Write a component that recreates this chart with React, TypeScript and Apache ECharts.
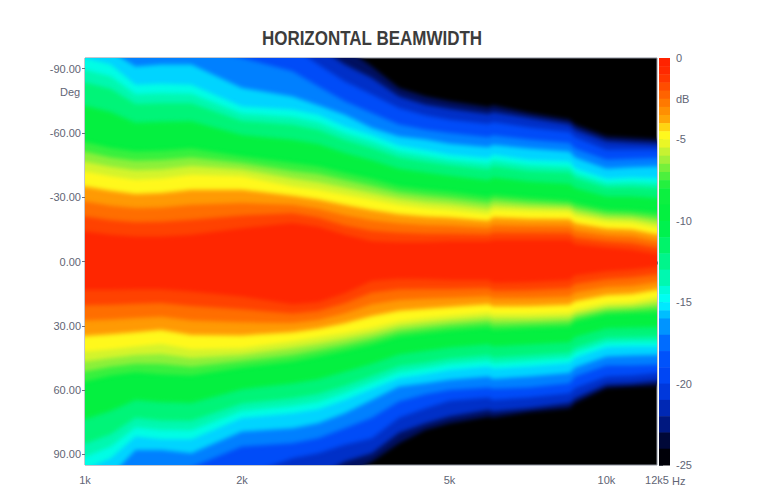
import React, { useEffect, useRef } from "react";
import * as echarts from "echarts";

const titleText = "HORIZONTAL BEAMWIDTH";
const freqs = [1000,1120,1250,1400,1600,2000,2500,2800,3150,3550,4000,4500,5000,5950,6050,7100,8500,8700,10000,11200,12500];
const xLabelValues = [1000,2000,5000,10000,12500];
const xLabelNames = ["1k","2k","5k","10k","12k5"];
const xTickValues = [1000,2000,3000,4000,5000,6000,7000,8000,9000,10000,12500];
const angleTicks = [-90,-60,-30,0,30,60,90];

// Angle (deg) at which each dB contour crosses each frequency column; +/-100 = beyond the plot.
const up1 = [-14,-12.5,-11.7,-11.7,-12.5,-15.5,-18,-16.2,-12.5,-9.5,-9,-9,-9.4,-9.4,-10,-10,-10,-8,-6.5,-5.5,-3.5];
const up2 = [-21,-19.3,-18.3,-18.5,-19.5,-21.5,-22.5,-20.5,-16.8,-14.4,-13.4,-13,-13,-12.6,-13.5,-13.4,-13.3,-11.2,-9.5,-8.6,-6.5];
const up3 = [-28,-26,-25,-25.2,-26.5,-27.3,-26.5,-24.6,-21.6,-19.2,-17.8,-17,-16.8,-15.8,-17,-16.7,-16.6,-14.5,-12.4,-11.8,-9.5];
const up4 = [-35,-33,-31.5,-32,-33.5,-33.5,-30.7,-29,-26.4,-24,-22,-21,-20.5,-19,-20.7,-20,-19.8,-17.8,-15.4,-14.9,-12.6];
const up5 = [-42,-39.8,-38.2,-38.7,-40.5,-39.8,-35,-33.5,-31.2,-29,-26.5,-25,-24.2,-22.2,-24.2,-23.4,-23.1,-21,-18.4,-18,-15.6];
const up6 = [-46.6,-44.2,-42.6,-43,-44.6,-43,-38.7,-37,-34.6,-32,-29.4,-27.8,-27,-24.8,-26.5,-25.5,-24.9,-23.1,-20.3,-19.9,-18];
const up7 = [-51.2,-48.6,-47,-47.4,-48.6,-46,-42.3,-40.8,-38,-35.3,-32.2,-30.7,-29.7,-27.4,-28.9,-27.5,-26.6,-25.2,-22.3,-21.8,-20.3];
const up8 = [-55.8,-53,-51.4,-51.7,-52.7,-49,-46,-44.4,-41.3,-38.5,-35,-33.5,-32.4,-30,-31.2,-29.6,-28.4,-27.3,-24.2,-23.7,-22.6];
const up11 = [-72.7,-69.8,-64.8,-65.2,-65.5,-59,-56.8,-54.8,-50.6,-47.3,-43.3,-41.5,-40,-37.9,-39.3,-37.3,-36.3,-34.3,-30.4,-30.4,-29.7];
const up13 = [-83.6,-80.7,-73.5,-73.9,-73.9,-65.6,-63.8,-61.5,-56.7,-53,-48.6,-46.6,-44.9,-43,-44.5,-42.3,-41.5,-38.9,-34.5,-34.8,-34.2];
const up14 = [-89.5,-86.5,-78.1,-78.6,-78.3,-69.1,-67.5,-65.1,-60,-56.1,-51.5,-49.4,-47.5,-45.7,-47.4,-45,-44.2,-41.3,-36.7,-37.1,-36.7];
const up15 = [-95,-92,-82.5,-83,-82.5,-72.4,-71,-68.5,-63,-59,-54.2,-52,-50,-48.3,-50,-47.5,-46.8,-43.6,-38.7,-39.3,-39];
const up16 = [-100,-98,-91,-92,-92,-81,-77,-73,-68.5,-62.3,-58.4,-57,-55,-53.3,-54.5,-52.7,-51.4,-48.6,-43.3,-44,-44.4];
const up18 = [-100,-100,-100,-100,-100,-95,-88.8,-81.8,-74.8,-69.3,-63.9,-61.5,-60,-58,-58.9,-56.9,-55.3,-52.7,-47.5,-48,-48.3];
const up20 = [-100,-100,-100,-100,-100,-100,-100,-92,-84,-78,-71.7,-68.2,-66.2,-64.2,-65.1,-62.6,-60.5,-58,-52.2,-52.2,-52.2];
const up22 = [-100,-100,-100,-100,-100,-100,-100,-100,-92,-85.7,-77,-73.2,-71.3,-68.9,-69.8,-67,-64,-61.5,-56,-55.3,-54.9];
const up24 = [-100,-100,-100,-100,-100,-100,-100,-100,-100,-91,-81,-77,-74.8,-72,-72.9,-69.3,-66.2,-63.9,-58.4,-57.7,-56.9];

const lo1 = [13.2,13.2,13,13,14,16.3,20,19,14.8,9,8,8.2,8.6,8.6,10,9.6,8.6,6.5,4.5,3.7,2.5];
const lo2 = [20.4,20.2,19.7,19.4,20.8,22.3,24.3,23.1,19.5,14.5,13,12.8,12.8,12.4,13.7,13.4,12.5,10.5,8.3,7.5,6.1];
const lo3 = [27.6,27.1,26.4,25.8,27.5,28.4,28.7,27.3,24.2,20,18,17.4,17,16.2,17.3,17.1,16.4,14.5,12,11.4,9.7];
const lo4 = [34.8,34,33,32,34.3,34.5,33,31.4,28.8,25.5,23,22,21.2,20,21,20.9,20.2,18.6,15.8,15.2,13.2];
const lo5 = [42,41,39.7,38.5,41,40.5,37.3,35.5,33.5,31,28,26.5,25.4,23.8,24.6,24.6,24.1,22.6,19.5,19,16.8];
const lo6 = [46.7,45,43.7,43.2,45,43.5,40.4,38.5,36.2,33.6,30.3,28.8,27.7,26.1,27,26.8,26.2,24.4,21.2,20.7,19.1];
const lo7 = [51.3,49.1,47.7,47.9,49.1,46.5,43.6,41.4,39,36.2,32.7,31.2,29.9,28.4,29.5,29,28.2,26.2,22.9,22.4,21.4];
const lo8 = [56,53.2,51.7,52.6,53.2,49.5,46.7,44.4,41.7,38.8,35,33.5,32.2,30.7,31.9,31.1,30.3,28,24.6,24.1,23.7];
const lo11 = [73.6,69.8,64.6,65.7,66,59.6,57,55,51.5,47.7,43.4,41.7,40.1,38.6,39.7,38.8,37.7,35.3,31.2,30.8,30.6];
const lo13 = [85.1,80.6,73,74.2,74.4,66.3,63.8,61.9,58,53.5,48.8,47.1,45.3,43.7,44.8,43.8,42.5,40.1,35.5,35.2,35];
const lo14 = [91.3,86.4,77.5,78.7,78.8,69.8,67.4,65.6,61.4,56.6,51.8,50,48,46.4,47.6,46.5,45.1,42.6,37.8,37.5,37.5];
const lo15 = [97,91.8,81.7,83,83,73.1,70.8,69,64.6,59.5,54.5,52.6,50.6,49,50.1,49,47.5,45,40,39.7,39.7];
const lo16 = [100,100,88,88,89.5,79.4,77.8,75.5,70.8,64.6,58.4,56.8,55.2,53.7,54.8,53.7,52.1,49.5,44.4,43.9,43.6];
const lo18 = [100,100,100,100,96,86.4,84.8,82.5,77.8,73,65.4,62,60,58.8,59.4,58.8,56.8,53.7,48.6,48.6,48.2];
const lo20 = [100,100,100,100,100,100,91.8,89.5,85.6,82.5,73,68.5,65,63.5,64.6,63.5,61.5,59,53.7,53.2,52.1];
const lo22 = [100,100,100,100,100,100,100,100,93.4,89.5,80,75.5,72.4,69.2,70,68.5,66,63.8,57.3,56.8,55.7];
const lo24 = [100,100,100,100,100,100,100,100,100,93.4,84.8,78.6,75.5,72.4,72.8,70.3,68.5,66,59.1,58.4,57.9];

// Outermost first, so each inner contour paints over the one before it.
const contours = [
  { db: -24, next: -22, up: up24, lo: lo24 },
  { db: -22, next: -20, up: up22, lo: lo22 },
  { db: -20, next: -18, up: up20, lo: lo20 },
  { db: -18, next: -16, up: up18, lo: lo18 },
  { db: -16, next: -15, up: up16, lo: lo16 },
  { db: -15, next: -14, up: up15, lo: lo15 },
  { db: -14, next: -13, up: up14, lo: lo14 },
  { db: -13, next: -11, up: up13, lo: lo13 },
  { db: -11, next: -8, up: up11, lo: lo11 },
  { db: -8, next: -7, up: up8, lo: lo8 },
  { db: -7, next: -6, up: up7, lo: lo7 },
  { db: -6, next: -5, up: up6, lo: lo6 },
  { db: -5, next: -4, up: up5, lo: lo5 },
  { db: -4, next: -3, up: up4, lo: lo4 },
  { db: -3, next: -2, up: up3, lo: lo3 },
  { db: -2, next: -1, up: up2, lo: lo2 },
  { db: -1, next: 0, up: up1, lo: lo1 },
];

const rampDb = [0,-1,-2,-3,-4,-4.5,-5,-5.5,-6,-7,-8,-10,-12,-13.5,-15,-16,-18,-20,-22,-23,-24,-25];
const rampHex = ["#ff2000","#ff2c00","#ff5800","#ff8400","#ffb008","#fff81c","#fff820","#d4f42c","#b8f038","#60f03c","#10f040","#00f040","#00f478","#00f8b0","#00ffff","#00a8ff","#0058ff","#0040f0","#0020a0","#001060","#000010","#000000"];
const scaleEdges = [0,-0.5,-1,-1.5,-2,-2.5,-3,-3.5,-4,-4.5,-5,-5.5,-6,-6.5,-7,-7.5,-8,-9,-10,-11,-12,-13,-14,-14.5,-15,-15.5,-16,-17,-18,-19,-20,-21,-22,-23,-24,-25];

function rgb(hex: string) {
  return [1, 3, 5].map((i) => parseInt(hex.slice(i, i + 2), 16));
}
function colorAt(db: number) {
  for (let i = 0; i < rampDb.length - 1; i++) {
    if (db <= rampDb[i] && db >= rampDb[i + 1]) {
      const t = (rampDb[i] - db) / (rampDb[i] - rampDb[i + 1]);
      const a = rgb(rampHex[i]);
      const b = rgb(rampHex[i + 1]);
      const c = a.map((v, k) => Math.round(v + (b[k] - v) * t));
      return `rgb(${c[0]},${c[1]},${c[2]})`;
    }
  }
  return "#000";
}

const labelColor = "#5f6575";
const labelFont = "'Liberation Sans', Arial, sans-serif";

// Softens the contour bands (the reference is a blurred raster) without touching the texts.
function softenContours(root: HTMLElement) {
  const svg = root.querySelector("svg");
  if (!svg) return;
  const ns = "http://www.w3.org/2000/svg";
  if (!svg.querySelector("#softBands")) {
    const defs = document.createElementNS(ns, "defs");
    const filter = document.createElementNS(ns, "filter");
    filter.setAttribute("id", "softBands");
    filter.setAttribute("color-interpolation-filters", "sRGB");
    const blur = document.createElementNS(ns, "feGaussianBlur");
    blur.setAttribute("stdDeviation", "2.2");
    filter.appendChild(blur);
    defs.appendChild(filter);
    svg.appendChild(defs);
  }
  svg.querySelectorAll("g[clip-path] path").forEach((p) => p.setAttribute("filter", "url(#softBands)"));
}

export default function App() {
  const ref = useRef<HTMLDivElement>(null);
  useEffect(() => {
    const chart = echarts.init(ref.current!, null, { renderer: "svg" });
    chart.setOption({
      animation: false,
      backgroundColor: "#ffffff",
      grid: [
        { left: 85, top: 58, width: 572, height: 407, show: true, backgroundColor: "#000000", borderColor: "#8b909c", borderWidth: 1 },
        { left: 659, top: 58, width: 11, height: 407 },
      ],
      xAxis: [
        {
          type: "log", gridIndex: 0, min: 1000, max: 12500, logBase: 10,
          splitLine: { show: false }, minorTick: { show: false },
          axisLine: { show: false },
          axisTick: { show: true, length: 3, customValues: xTickValues, lineStyle: { color: "#6d7280" } },
          axisLabel: {
            show: true, margin: 9, fontSize: 11, color: labelColor, fontFamily: labelFont,
            customValues: xLabelValues,
            formatter: (v: number) => xLabelNames[xLabelValues.indexOf(Math.round(v))] ?? "",
          },
        },
        { type: "value", gridIndex: 1, min: 0, max: 1, show: false },
      ],
      yAxis: [
        {
          type: "value", gridIndex: 0, min: -95, max: 95, inverse: true,
          splitLine: { show: false },
          axisLine: { show: false },
          axisTick: { show: true, length: 3, customValues: angleTicks, lineStyle: { color: "#6d7280" } },
          axisLabel: {
            show: true, margin: 4, fontSize: 11, color: labelColor, fontFamily: labelFont,
            customValues: angleTicks,
            formatter: (v: number) => v.toFixed(2),
          },
        },
        {
          type: "value", gridIndex: 1, min: -25, max: 0, interval: 5, position: "right",
          splitLine: { show: false },
          axisLine: { show: false },
          axisTick: { show: true, length: 4, lineStyle: { color: "#6d7280" } },
          axisLabel: { show: true, margin: 6, fontSize: 11, color: labelColor, fontFamily: labelFont },
        },
      ],
      series: [
        {
          type: "custom",
          xAxisIndex: 0,
          yAxisIndex: 0,
          clip: true,
          silent: true,
          data: contours.map((c) => [freqs[0], c.db]),
          encode: { x: 0, y: 1 },
          renderItem: (params: any, api: any) => {
            const c = contours[params.dataIndex];
            const top = freqs.map((f, i) => api.coord([f, c.up[i]]));
            const bottom = freqs.map((f, i) => api.coord([f, c.lo[i]])).reverse();
            const n = top.length - 1;
            // Carry the end columns past the plot's edges so the softening does not fade there.
            const pad = 24;
            const pts = [
              [top[0][0] - pad, top[0][1]],
              ...top,
              [top[n][0] + pad, top[n][1]],
              [bottom[0][0] + pad, bottom[0][1]],
              ...bottom,
              [bottom[n][0] - pad, bottom[n][1]],
            ];
            return {
              type: "polygon",
              shape: { points: pts },
              style: { fill: colorAt((c.db + c.next) / 2), stroke: null },
            };
          },
        },
        {
          type: "custom",
          xAxisIndex: 1,
          yAxisIndex: 1,
          silent: true,
          data: scaleEdges.slice(0, -1).map((db, i) => [0, db, scaleEdges[i + 1]]),
          encode: { x: 0, y: 1 },
          renderItem: (_params: any, api: any) => {
            const a = api.coord([0, api.value(1)]);
            const b = api.coord([1, api.value(2)]);
            return {
              type: "rect",
              shape: { x: a[0], y: a[1], width: b[0] - a[0], height: b[1] - a[1] + 0.5 },
              style: { fill: colorAt((api.value(1) + api.value(2)) / 2) },
            };
          },
        },
      ],
      graphic: [
        {
          type: "text", x: 372, y: 38, scaleX: 0.85,
          style: {
            text: titleText, fontSize: 20, fontWeight: "bold", fill: "#3c3c3c", fontFamily: labelFont,
            textAlign: "center", textVerticalAlign: "middle",
          },
        },
        { type: "text", x: 60, y: 86, style: { text: "Deg", fontSize: 11, fill: labelColor, fontFamily: labelFont } },
        { type: "text", x: 676, y: 93, style: { text: "dB", fontSize: 11, fill: labelColor, fontFamily: labelFont } },
        { type: "text", x: 672, y: 475, style: { text: "Hz", fontSize: 11, fill: labelColor, fontFamily: labelFont } },
      ],
    });
    softenContours(ref.current!);
    chart.on("finished", () => softenContours(ref.current!));
    const frame = requestAnimationFrame(() => ref.current && softenContours(ref.current));
    return () => {
      cancelAnimationFrame(frame);
      chart.dispose();
    };
  }, []);
  return <div ref={ref} style={{ position: "fixed", left: 0, top: 0, width: 764, height: 500 }} />;
}
